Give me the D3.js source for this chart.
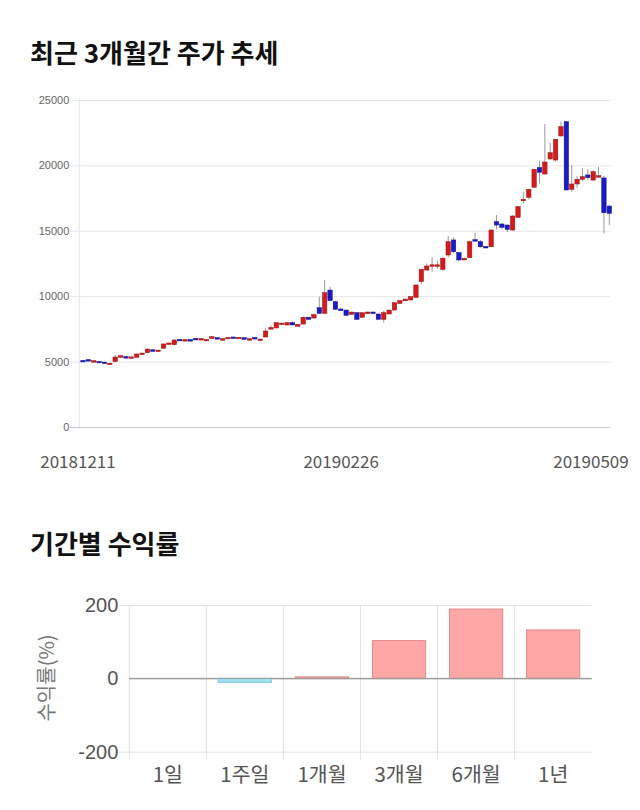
<!DOCTYPE html>
<html><head><meta charset="utf-8">
<script src="https://cdn.jsdelivr.net/npm/d3@7"></script>
<style>body{margin:0;background:#fff} svg{display:block}</style>
</head><body>
<svg id="c" width="640" height="810"></svg>
<script>
// ---- price chart data ----
const dates = [
"20181211","20181212","20181213","20181214","20181217","20181218","20181219","20181220","20181221","20181224","20181226","20181227","20181228",
"20190102","20190103","20190104","20190107","20190108","20190109","20190110","20190111","20190114","20190115","20190116","20190117","20190118","20190121","20190122","20190123","20190124","20190125","20190128","20190129","20190130","20190131",
"20190201","20190207","20190208","20190211","20190212","20190213","20190214","20190215","20190218","20190219","20190220","20190221","20190222","20190225","20190226","20190227","20190228",
"20190304","20190305","20190306","20190307","20190308","20190311","20190312","20190313","20190314","20190315","20190318","20190319","20190320","20190321","20190322","20190325","20190326","20190327","20190328","20190329",
"20190401","20190402","20190403","20190404","20190405","20190408","20190409","20190410","20190411","20190412","20190415","20190416","20190417","20190418","20190419","20190422","20190423","20190424","20190425","20190426","20190429","20190430",
"20190502","20190503","20190507","20190508","20190509"];
const openP = [5090,5150,5040,5020,4960,4850,5000,5330,5380,5320,5330,5620,5680,5900,5800,6020,6380,6290,6700,6660,6680,6770,6740,6650,6770,6830,6650,6840,6880,6850,6830,6640,6840,6680,6880,7480,7570,7920,7800,7990,7700,7870,8390,8330,9120,8690,10470,9580,9020,8940,8610,8740,8390,8660,8790,8640,8230,8640,8940,9450,9650,9710,9910,11110,12000,12380,12380,12050,13150,14300,13330,12770,12940,14320,14170,13800,13780,15700,15520,15440,15060,16030,17350,17560,18330,19850,19340,20490,20410,22250,23340,18170,18580,18940,19270,18880,19170,19040,16890];
const highP = [5120,5180,5100,5050,4990,4900,5520,5480,5420,5390,5620,5700,6000,5940,5900,6380,6450,6700,6730,6700,6700,6800,6780,6720,6960,6850,6760,6880,6900,6880,6850,6760,6860,6760,7600,7800,8000,7990,8000,8050,7860,8450,8400,8700,9960,11240,10730,9620,9100,8960,8800,8750,8760,8820,8820,8660,8900,8960,9540,9680,9800,9990,10880,12100,12500,12970,12700,13000,14600,14500,13400,12950,14250,14860,14300,13850,15100,16200,15600,15500,16200,16900,17990,18200,19750,20360,23160,21730,22000,23340,23400,20030,19200,19800,19700,19620,19900,19200,17000];
const lowP = [5040,5100,5020,4940,4890,4820,4980,5300,5340,5300,5320,5600,5660,5800,5780,6000,6360,6270,6640,6640,6650,6710,6720,6630,6750,6740,6640,6820,6840,6830,6690,6620,6780,6640,6860,7460,7550,7900,7780,7800,7680,7850,8220,8310,8680,8680,9640,8980,8880,8520,8590,8220,8370,8640,8720,8220,7970,8620,8920,9400,9630,9690,9900,10900,11950,11870,12100,11950,13000,13300,12700,12750,12900,14200,13700,13740,13760,15110,15100,14900,15000,16000,17100,17400,18300,18630,19300,20450,20300,22200,18100,18000,18300,18800,18900,18800,19100,14810,15440];
const closeP = [5060,5110,5070,4960,4910,4880,5350,5450,5370,5360,5580,5650,5960,5830,5880,6350,6420,6650,6650,6680,6670,6730,6760,6700,6900,6750,6750,6850,6860,6860,6700,6750,6800,6720,7340,7600,7980,7940,7980,7800,7850,8390,8230,8590,8690,10270,9660,9000,8890,8540,8790,8230,8740,8790,8740,8230,8740,8940,9500,9660,9780,9960,10860,12060,12310,12400,12400,12900,14170,13400,12770,12900,14170,14280,13780,13780,15060,15440,15270,15110,16130,16840,17410,18170,19700,19470,20260,20970,22000,22960,18120,18580,18940,19140,19060,19520,19210,16380,16330];
const priceTicks = [0,5000,10000,15000,20000,25000];
const dateLabels = ["20181211","20190226","20190509"];

// ---- returns chart data ----
const periods = ["1일","1주일","1개월","3개월","6개월","1년"];
const returns = [0,-11,4,103,189,132];
const returnTicks = [-200,0,200];

const svg = d3.select("#c");
const KR = "'Noto Sans CJK KR','Noto Sans',sans-serif";
const SANS = "'Liberation Sans',Arial,sans-serif";

// titles
svg.append("text").attr("x",30).attr("y",63).text("최근 3개월간 주가 추세")
  .attr("font-family",KR).attr("font-weight",700).attr("font-size",26).attr("fill","#111");
svg.append("text").attr("x",30).attr("y",554).text("기간별 수익률")
  .attr("font-family",KR).attr("font-weight",700).attr("font-size",26).attr("fill","#111");

// ---- candlestick ----
const x = d3.scaleBand().domain(dates).range([80.3,612]);
const y = d3.scaleLinear().domain([0,25000]).range([427,100]);
const g1 = svg.append("g");
const yAxis = d3.axisLeft(y).tickValues(priceTicks).tickSize(9).tickPadding(1).tickFormat(d=>String(d));
const ya = g1.append("g").attr("transform","translate(79.3,0)").call(yAxis);
ya.select(".domain").remove();
ya.selectAll(".tick line").attr("stroke","#e6e6e6").attr("x1",-9).attr("x2",531);
ya.selectAll(".tick text").attr("font-family",SANS).attr("font-size",11).attr("fill","#666");
ya.selectAll(".tick").filter(d=>d===0).select("line").attr("stroke","#c8c8c8");
g1.append("line").attr("x1",79.3).attr("x2",79.3).attr("y1",98).attr("y2",427).attr("stroke","#e6e6e6");

const idx = d3.range(dates.length);
const bw = 4.4;
const cx = i => x(dates[i]) + x.bandwidth()/2;
g1.append("g").selectAll("line").data(idx).join("line")
  .attr("x1",cx).attr("x2",cx)
  .attr("y1",i=>y(highP[i])).attr("y2",i=>y(lowP[i]))
  .attr("stroke","#9a9a9a").attr("stroke-width",1);
g1.append("g").selectAll("rect").data(idx).join("rect")
  .attr("x",i=>cx(i)-bw/2).attr("width",bw)
  .attr("y",i=>y(Math.max(openP[i],closeP[i])))
  .attr("height",i=>Math.max(1.5,Math.abs(y(openP[i])-y(closeP[i]))))
  .attr("fill",i=>closeP[i]>=openP[i]?"#d41a1a":"#1a1ac8")
  .attr("stroke",i=>closeP[i]>=openP[i]?"#9a1010":"#10108a").attr("stroke-width",0.5);

// date labels
g1.append("g").selectAll("text").data(dateLabels).join("text")
  .attr("x",d=>Math.min(x(d)+x.bandwidth()/2-5, 591))
  .attr("y",468).attr("text-anchor","middle").text(d=>d)
  .attr("font-family",KR).attr("font-size",17).attr("fill","#555");

// ---- returns bar chart ----
const xb = d3.scaleBand().domain(periods).range([129.3,591.7]).paddingInner(0.31).paddingOuter(0.155);
const yb = d3.scaleLinear().domain([-200,200]).range([751.7,605]);
const g2 = svg.append("g");
const step = xb.step();
const bounds = d3.range(periods.length).map(i=>129.3+i*step);
g2.append("g").selectAll("line").data(bounds).join("line")
  .attr("x1",d=>d).attr("x2",d=>d).attr("y1",605).attr("y2",760)
  .attr("stroke","#e3e3e3");
const yba = g2.append("g").attr("transform","translate(129.3,0)")
  .call(d3.axisLeft(yb).tickValues(returnTicks).tickSize(9).tickPadding(2).tickFormat(d=>String(d)));
yba.select(".domain").remove();
yba.selectAll(".tick line").attr("x2",462.4).attr("x1",-9).attr("stroke","#e3e3e3");
yba.selectAll(".tick").filter(d=>d===0).select("line").attr("x1",0).attr("stroke","#999");
yba.selectAll(".tick text").attr("font-family",SANS).attr("font-size",20).attr("fill","#555");

g2.append("g").selectAll("rect").data(periods).join("rect")
  .attr("x",d=>xb(d)).attr("width",xb.bandwidth())
  .attr("y",(d,i)=>yb(Math.max(0,returns[i])))
  .attr("height",(d,i)=>Math.abs(yb(returns[i])-yb(0)))
  .attr("fill",(d,i)=>returns[i]>=0?"#ffa6a6":"#9fe0ee")
  .attr("stroke",(d,i)=>returns[i]>=0?"#e08c8c":"#86cddc").attr("stroke-width",1);
g2.append("line").attr("x1",129.3).attr("x2",591.7).attr("y1",yb(0)).attr("y2",yb(0)).attr("stroke","#999");

g2.append("g").selectAll("text").data(periods).join("text")
  .attr("x",d=>xb(d)+xb.bandwidth()/2).attr("y",782).attr("text-anchor","middle").text(d=>d)
  .attr("font-family",KR).attr("font-size",20.5).attr("fill","#555");
g2.append("text").attr("transform","translate(54,678) rotate(-90)").attr("text-anchor","middle")
  .text("수익률(%)").attr("font-family",KR).attr("font-size",20).attr("fill","#777");
</script>
</body></html>
